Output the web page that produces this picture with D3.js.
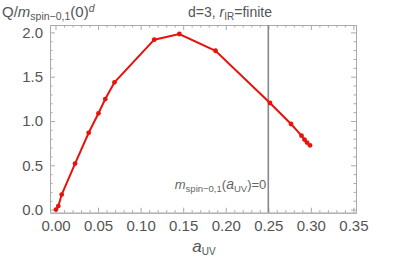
<!DOCTYPE html>
<html>
<head>
<meta charset="utf-8">
<script src="https://cdn.jsdelivr.net/npm/d3@7"></script>
<style>
  body { margin: 0; background: #fff; }
  svg { font-family: "Liberation Sans", Arial, sans-serif; }
</style>
</head>
<body>
<svg width="407" height="263"></svg>
<script>
// data
let aUV = [0.0005, 0.0033, 0.0073, 0.023, 0.039, 0.0505, 0.0585, 0.0693, 0.116, 0.1455, 0.188, 0.252, 0.2767, 0.289, 0.2925, 0.2955, 0.299];
let Q = [0.0, 0.04, 0.17, 0.52, 0.867, 1.087, 1.248, 1.437, 1.918, 1.982, 1.793, 1.203, 0.966, 0.834, 0.79, 0.757, 0.725];
let xTicks = [0, 0.05, 0.1, 0.15, 0.2, 0.25, 0.3, 0.35];
let yTicks = [0, 0.5, 1.0, 1.5, 2.0];
let zeroLine = 0.25;

let svg = d3.select("svg");
let fLeft = 50, fRight = 356, fTop = 25, fBottom = 212.7;

let x = d3.scaleLinear().domain([-0.00646, 0.35303]).range([fLeft, fRight]);
let y = d3.scaleLinear().domain([-0.035, 2.0835]).range([fBottom, fTop]);

let frameColor = "#aaa", labelColor = "#555";

let xMinor = d3.range(0, 0.3501, 0.01).filter(v => Math.abs(v / 0.05 - Math.round(v / 0.05)) > 1e-6);
let yMinor = d3.range(0, 2.0501, 0.1).filter(v => Math.abs(v / 0.5 - Math.round(v / 0.5)) > 1e-6);

function styleAxis(g) {
  g.select(".domain").attr("stroke", frameColor);
  g.selectAll(".tick line").attr("stroke", frameColor);
  g.selectAll(".tick text").attr("fill", labelColor).style("font-size", "15px");
}

let g;
// bottom
g = svg.append("g").attr("transform", "translate(0," + fBottom + ")")
  .call(d3.axisBottom(x).tickValues(xTicks).tickSizeInner(-5).tickSizeOuter(0).tickPadding(8).tickFormat(d3.format(".2f")));
styleAxis(g);
g = svg.append("g").attr("transform", "translate(0," + fBottom + ")")
  .call(d3.axisBottom(x).tickValues(xMinor).tickSizeInner(-2.5).tickSizeOuter(0).tickFormat(""));
styleAxis(g);
// top
g = svg.append("g").attr("transform", "translate(0," + fTop + ")")
  .call(d3.axisTop(x).tickValues(xTicks).tickSizeInner(-5).tickSizeOuter(0).tickFormat(""));
styleAxis(g);
g = svg.append("g").attr("transform", "translate(0," + fTop + ")")
  .call(d3.axisTop(x).tickValues(xMinor).tickSizeInner(-2.5).tickSizeOuter(0).tickFormat(""));
styleAxis(g);
// left
g = svg.append("g").attr("transform", "translate(" + fLeft + ",0)")
  .call(d3.axisLeft(y).tickValues(yTicks).tickSizeInner(-5).tickSizeOuter(0).tickPadding(7).tickFormat(d3.format(".1f")));
styleAxis(g);
g = svg.append("g").attr("transform", "translate(" + fLeft + ",0)")
  .call(d3.axisLeft(y).tickValues(yMinor).tickSizeInner(-2.5).tickSizeOuter(0).tickFormat(""));
styleAxis(g);
// right
g = svg.append("g").attr("transform", "translate(" + fRight + ",0)")
  .call(d3.axisRight(y).tickValues(yTicks).tickSizeInner(-5).tickSizeOuter(0).tickFormat(""));
styleAxis(g);
g = svg.append("g").attr("transform", "translate(" + fRight + ",0)")
  .call(d3.axisRight(y).tickValues(yMinor).tickSizeInner(-2.5).tickSizeOuter(0).tickFormat(""));
styleAxis(g);

// vertical line where m = 0
svg.append("line")
  .attr("x1", x(zeroLine)).attr("x2", x(zeroLine))
  .attr("y1", fTop).attr("y2", fBottom)
  .attr("stroke", "#888").attr("stroke-width", 1.6);

let ann = svg.append("text")
  .attr("x", x(zeroLine) - 2).attr("y", 189)
  .attr("text-anchor", "end").attr("fill", "#666").style("font-size", "13px");
ann.append("tspan").attr("font-style", "italic").text("m");
ann.append("tspan").attr("dy", 3).style("font-size", "9.5px").text("spin\u22120,1");
ann.append("tspan").attr("dy", -3).text("(");
ann.append("tspan").attr("font-style", "italic").style("font-size", "14px").text("a");
ann.append("tspan").attr("dy", 3).style("font-size", "9.5px").text("UV");
ann.append("tspan").attr("dy", -3).text(")=0");

// data line
let pts = aUV.map((v, i) => [v, Q[i]]);
svg.append("path")
  .datum(pts)
  .attr("fill", "none")
  .attr("stroke", "#e8120c")
  .attr("stroke-width", 2)
  .attr("d", d3.line().x(d => x(d[0])).y(d => y(d[1])));

svg.append("g")
  .selectAll("circle")
  .data(pts)
  .enter()
  .append("circle")
  .attr("cx", d => x(d[0]))
  .attr("cy", d => y(d[1]))
  .attr("r", 2.4)
  .attr("fill", "#e8120c");

// title
let title = svg.append("text")
  .attr("x", 230).attr("y", 17)
  .attr("text-anchor", "middle").attr("fill", labelColor).style("font-size", "14px");
title.append("tspan").text("d=3, ");
title.append("tspan").attr("font-style", "italic").text("r");
title.append("tspan").attr("dy", 3).style("font-size", "10px").text("IR");
title.append("tspan").attr("dy", -3).text("=finite");

// y label
let yl = svg.append("text")
  .attr("x", 2).attr("y", 17)
  .attr("fill", labelColor).style("font-size", "15px");
yl.append("tspan").text("Q/");
yl.append("tspan").attr("font-style", "italic").text("m");
yl.append("tspan").attr("dy", 3).style("font-size", "10.5px").text("spin\u22120,1");
yl.append("tspan").attr("dy", -3).text("(0)");
yl.append("tspan").attr("dy", -5).attr("font-style", "italic").style("font-size", "10.5px").text("d");

// x label
let xl = svg.append("text")
  .attr("x", 204).attr("y", 252)
  .attr("text-anchor", "middle").attr("fill", labelColor).style("font-size", "17px");
xl.append("tspan").attr("font-style", "italic").text("a");
xl.append("tspan").attr("dy", 3).style("font-size", "10px").text("UV");
</script>
</body>
</html>
